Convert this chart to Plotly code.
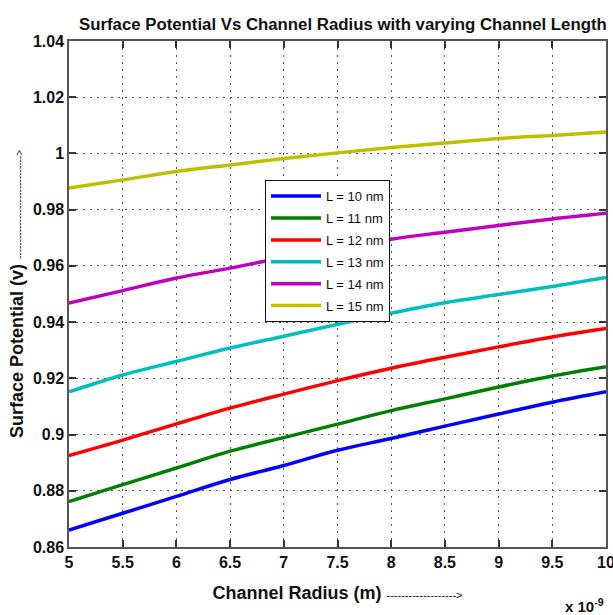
import plotly.graph_objects as go

radius_nm = [5, 5.5, 6, 6.5, 7, 7.5, 8, 8.5, 9, 9.5, 10]

L10 = [0.866, 0.872, 0.878, 0.884, 0.889, 0.8944, 0.8986, 0.903, 0.9073, 0.9115, 0.9152]
L11 = [0.8762, 0.8822, 0.8881, 0.8941, 0.8989, 0.9037, 0.9085, 0.9127, 0.9169, 0.9208, 0.9241]
L12 = [0.8925, 0.8980, 0.9038, 0.9094, 0.9144, 0.9192, 0.9236, 0.9275, 0.9312, 0.9347, 0.9377]
L13 = [0.9152, 0.9212, 0.926, 0.9308, 0.935, 0.9392, 0.9432, 0.9469, 0.9498, 0.9527, 0.9559]
L14 = [0.9468, 0.9512, 0.9557, 0.9592, 0.9630, 0.9662, 0.9695, 0.972, 0.9744, 0.9767, 0.9787]
L15 = [0.9877, 0.9906, 0.9936, 0.9959, 0.9982, 1.0002, 1.0021, 1.0037, 1.0053, 1.0064, 1.0076]

series_names = ["L = 10 nm", "L = 11 nm", "L = 12 nm", "L = 13 nm", "L = 14 nm", "L = 15 nm"]
series_values = [L10, L11, L12, L13, L14, L15]
series_colors = ["#0000FF", "#008000", "#FF0000", "#00BFBF", "#BF00BF", "#BFBF00"]

x_ticks = [5, 5.5, 6, 6.5, 7, 7.5, 8, 8.5, 9, 9.5, 10]
x_tick_labels = ["5", "5.5", "6", "6.5", "7", "7.5", "8", "8.5", "9", "9.5", "10"]
y_ticks = [0.86, 0.88, 0.90, 0.92, 0.94, 0.96, 0.98, 1.00, 1.02, 1.04]
y_tick_labels = ["0.86", "0.88", "0.9", "0.92", "0.94", "0.96", "0.98", "1", "1.02", "1.04"]

FONT = "Liberation Sans, Arial, sans-serif"

fig = go.Figure()
for name, vals, col in zip(series_names, series_values, series_colors):
    fig.add_trace(go.Scatter(
        x=radius_nm, y=vals, mode="lines", name=name,
        line=dict(color=col, width=3.5, shape="spline"),
        legendgroup=name,
    ))

axis_common = dict(
    showline=True, linecolor="#555555", linewidth=1.5, mirror="ticks",
    ticks="inside", ticklen=7, tickcolor="#333333", tickwidth=1.5,
    showgrid=True, gridcolor="#555555", griddash="2px,5px", gridwidth=1,
    zeroline=False, automargin=False, ticklabeloverflow="allow",
    tickfont=dict(family=FONT, size=16, weight="bold", color="#111111"),
)

fig.update_layout(
    width=613, height=615,
    margin=dict(l=69, r=7, t=41, b=68),
    paper_bgcolor="white", plot_bgcolor="white",
    title=dict(
        text="<b>Surface Potential Vs Channel Radius with varying Channel Length</b>",
        font=dict(family=FONT, size=16.8, color="#111111"),
        x=0.51, xref="paper", xanchor="center", y=0.961, yanchor="middle",
    ),
    xaxis=dict(
        range=[5, 10], tickvals=x_ticks, ticktext=x_tick_labels,
        title=dict(
            text="<b>Channel Radius (m)</b> <span style='font-size:11px'>-------------------></span>",
            font=dict(family=FONT, size=18, color="#111111"), standoff=16,
        ),
        **axis_common,
    ),
    yaxis=dict(
        range=[0.86, 1.04], tickvals=y_ticks, ticktext=y_tick_labels,
        title=dict(
            text="<b>Surface Potential (v)</b> <span style='font-size:10px'>-------------------------------></span>",
            font=dict(family=FONT, size=18, color="#111111"), standoff=5,
        ),
        **axis_common,
    ),
    legend=dict(
        x=0.365, y=0.725, xanchor="left", yanchor="top",
        bgcolor="white", bordercolor="#111111", borderwidth=1,
        font=dict(family=FONT, size=13, color="#111111"),
        traceorder="grouped", tracegroupgap=2, itemwidth=50,
    ),
    showlegend=True,
    annotations=[dict(
        text="<b>x 10<sup>-9</sup></b>", xref="paper", yref="paper",
        x=1.0, y=-0.115, xanchor="right", yanchor="middle", showarrow=False,
        font=dict(family=FONT, size=15, color="#111111"),
    )],
)

fig.write_html("out.html")
